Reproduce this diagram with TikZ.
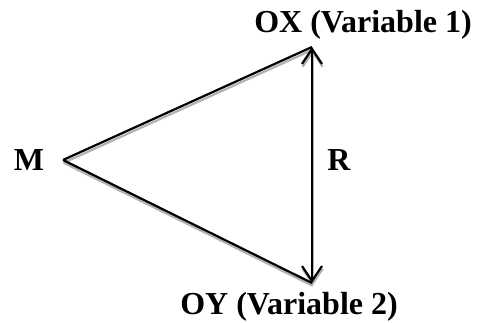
\documentclass[tikz,border=0pt]{standalone}
\usepackage{fontspec}
\setmainfont{Liberation Serif}
\usetikzlibrary{arrows.meta}

\begin{document}
\begin{tikzpicture}[
  x=1pt,y=1pt,
  lbl/.style={font=\fontsize{32}{38}\selectfont\bfseries,inner sep=0pt,anchor=base},
  edge/.style={line width=2.2pt},
  shade/.style={edge,draw=gray!60},
  tips/.style={{Straight Barb[length=15pt,width=20pt]}-{Straight Barb[length=15pt,width=20pt]}}
]
  \useasboundingbox (0,0) rectangle (477,323);

  \node[lbl] (m) at (29,152) {M};
  \node[lbl] (r) at (339,152) {R};
  \node[lbl] (ox) at (363,290) {OX (Variable 1)};
  \node[lbl] (oy) at (289,8) {OY (Variable 2)};

  \coordinate (apex) at (63,163);
  \coordinate (top) at (312,276);
  \coordinate (bot) at (312,40);

  % grey shadow under the lines
  \begin{scope}[transform canvas={xshift=0.6pt,yshift=-2.8pt}]
    \draw[shade] (apex) -- (top);
    \draw[shade] (apex) -- (bot);
    \draw[shade,tips] (top) -- (bot);
  \end{scope}

  \draw[edge] (apex) -- (top);
  \draw[edge] (apex) -- (bot);
  \draw[edge,tips] (top) -- (bot);
\end{tikzpicture}
\end{document}
